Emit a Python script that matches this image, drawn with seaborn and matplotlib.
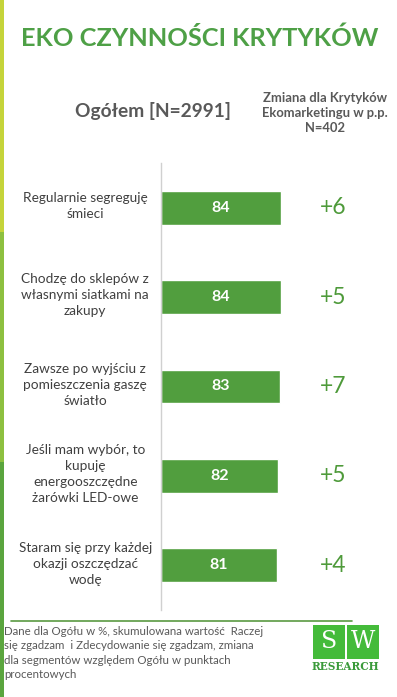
import matplotlib
matplotlib.use("Agg")
import matplotlib.pyplot as plt
import seaborn as sns
import pandas as pd
from matplotlib.patches import Rectangle
from matplotlib.lines import Line2D

categories = [
    "Regularnie segreguję\nśmieci",
    "Chodzę do sklepów z\nwłasnymi siatkami na\nzakupy",
    "Zawsze po wyjściu z\npomieszczenia gaszę\nświatło",
    "Jeśli mam wybór, to\nkupuję\nenergooszczędne\nżarówki LED-owe",
    "Staram się przy każdej\nokazji oszczędzać\nwodę",
]
values = [84, 84, 83, 82, 81]
changes = ["+6", "+5", "+7", "+5", "+4"]

title = "EKO CZYNNOŚCI KRYTYKÓW"
header_left = "Ogółem [N=2991]"
header_right = "Zmiana dla Krytyków\nEkomarketingu w p.p.\nN=402"
footnote = ("Dane dla Ogółu w %, skumulowana wartość  Raczej\n"
            "się zgadzam  i Zdecydowanie się zgadzam, zmiana\n"
            "dla segmentów względem Ogółu w punktach\n"
            "procentowych")

sns.set_theme(style="white")
plt.rcParams['font.family'] = ['Lato', 'DejaVu Sans']

W, H = 397, 697
fig = plt.figure(figsize=(W / 100, H / 100), dpi=100)
fig.patch.set_facecolor("white")

def fx(px):
    return px / W

def fy(py):
    return 1 - py / H

# plot axes
ax_left, ax_right = 161, 304
ax_top, ax_bot = 163, 610
ax = fig.add_axes([fx(ax_left), fy(ax_bot), fx(ax_right - ax_left), (ax_bot - ax_top) / H])
df = pd.DataFrame({"cat": categories, "val": values})
bar_color = "#519E3E"
sns.barplot(data=df, x="val", y="cat", orient="h", color=bar_color, width=0.38,
            saturation=1, ax=ax)
ax.set_xlim(0, 100)
ax.set_ylim(4.5, -0.5)
ax.set_xlabel("")
ax.set_ylabel("")
ax.set_xticks([])
ax.set_yticks([])
for s in ["top", "right", "bottom"]:
    ax.spines[s].set_visible(False)
ax.spines["left"].set_color("#d0d0d0")
ax.spines["left"].set_linewidth(1.0)
ax.patch.set_alpha(0)

for i, (v, c, cat) in enumerate(zip(values, changes, categories)):
    ax.text(v / 2, i, str(v), ha="center", va="center", color="white",
            fontsize=11.5, fontweight="bold")
    ax.text(120.5, i, c, ha="center", va="center", color="#4E9A3A",
            fontsize=16.5, clip_on=False)
    ax.text(-53, i - 0.02, cat, ha="center", va="center", color="#404040",
            fontsize=9.8, clip_on=False, linespacing=1.4)

# left strip
strip = [(0, 232, "#C5D43A"), (232, 462, "#8DC040"), (462, 697, "#5AA53E")]
for y0, y1, col in strip:
    fig.add_artist(Rectangle((0, fy(y1)), fx(4), (y1 - y0) / H,
                             transform=fig.transFigure, color=col, lw=0))

# title and headers
fig.text(fx(200), fy(38), title, ha="center", va="center", color="#4EA046",
         fontsize=18.3, fontweight="bold")
fig.text(fx(153), fy(111), header_left, ha="center", va="center", color="#595959",
         fontsize=13.8, fontweight="bold")
fig.text(fx(325), fy(113), header_right, ha="center", va="center", color="#595959",
         fontsize=9.4, fontweight="bold", linespacing=1.3)

# separator line
fig.add_artist(Line2D([fx(11), fx(352)], [fy(621), fy(621)], transform=fig.transFigure,
                      color="#5A9A42", lw=1.2))

# footnote
fig.text(fx(4), fy(626), footnote, ha="left", va="top", color="#595959",
         fontsize=8.3, linespacing=1.38)

# logo
for x0, letter in [(313, "S"), (347, "W")]:
    fig.add_artist(Rectangle((fx(x0), fy(659)), fx(32), 34 / H,
                             transform=fig.transFigure, color="#44BB3A", lw=0))
    fig.text(fx(x0 + 16), fy(642), letter, ha="center", va="center", color="white",
             fontsize=17, family="DejaVu Serif")
fig.text(fx(345.5), fy(667), "RESEARCH", ha="center", va="center", color="#3A9A3A",
         fontsize=7.6, fontweight="bold", family="DejaVu Serif")

fig.savefig("out.png", dpi=100, facecolor="white")
